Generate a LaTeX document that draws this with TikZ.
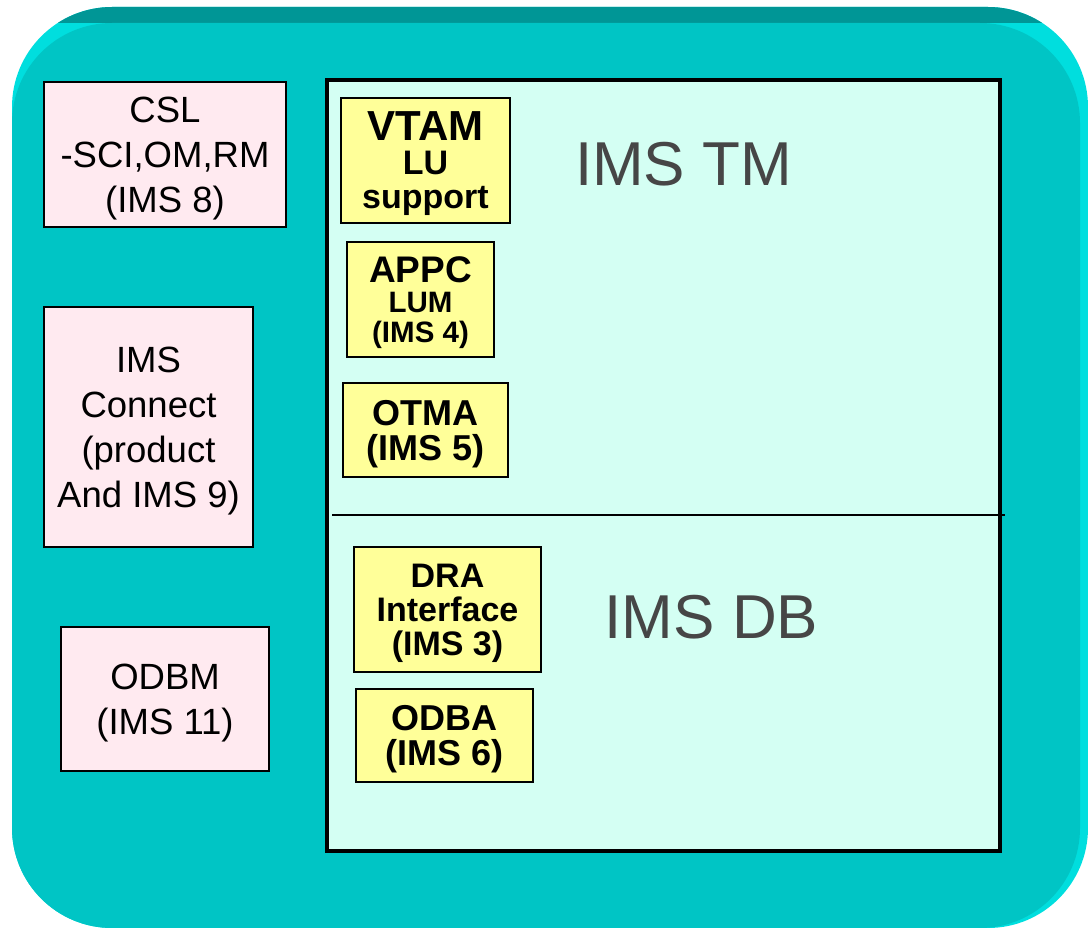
\documentclass[tikz,border=0pt]{standalone}
\usepackage{fontspec}
\setmainfont{Liberation Sans}
\usetikzlibrary{positioning}
\definecolor{imsteal}{RGB}{0,197,197}
\definecolor{imstealdark}{RGB}{0,150,150}
\definecolor{imsteallight}{RGB}{0,222,222}
\definecolor{imsmint}{RGB}{212,255,243}
\definecolor{imspink}{RGB}{255,234,240}
\definecolor{imsyellow}{RGB}{255,255,153}
\definecolor{imsgray}{RGB}{70,70,70}

\begin{document}
\begin{tikzpicture}[x=1pt,y=-1pt,
  sidebox/.style={draw,line width=1.8pt,fill=imspink,align=center,inner sep=0pt,text depth=0pt,font=\fontsize{36.5}{45}\selectfont},
  featbox/.style={draw,line width=1.8pt,fill=imsyellow,align=center,inner sep=0pt,text depth=0pt},
  arealabel/.style={text=imsgray,inner sep=0pt,font=\fontsize{62}{62}\selectfont}]
\useasboundingbox (0,0) rectangle (1088,928);
\fill[imsteallight,rounded corners=100pt] (12,7) rectangle (1088,928);
\begin{scope}
\clip (0,0) rectangle (1088,23);
\fill[imstealdark,rounded corners=100pt] (12,7) rectangle (1088,928);
\end{scope}
\fill[imsteal,rounded corners=100pt] (12,23) rectangle (1080,928);
\node[draw,line width=4pt,fill=imsmint,minimum width=673pt,minimum height=771pt,inner sep=0pt] (ims) at (663.5,465.5) {};
\coordinate (divl) at (332,515);
\coordinate (divr) at (1005,515);
\draw[line width=2pt] (divl) -- (divr);
\node[sidebox,minimum width=242pt,minimum height=145pt] (csl) at (165,154.5) {CSL\\-SCI,OM,RM\\(IMS 8)};
\node[sidebox,minimum width=209pt,minimum height=240pt] (connect) at (148.5,427) {IMS\\Connect\\(product\\And IMS 9)};
\node[sidebox,minimum width=208pt,minimum height=144pt] (odbm) at (165,699) {ODBM\\(IMS 11)};
\node[featbox,minimum width=169pt,minimum height=125pt,font=\bfseries\fontsize{34}{34}\selectfont] (vtam) at (425.5,160.5) {{\fontsize{42}{40}\selectfont VTAM}\\LU\\support};
\node[featbox,minimum width=147pt,minimum height=115pt,font=\bfseries\fontsize{29.5}{30}\selectfont] (appc) at (420.5,299.5) {{\fontsize{37}{35}\selectfont APPC}\\LUM\\(IMS 4)};
\node[featbox,minimum width=165pt,minimum height=94pt,font=\bfseries\fontsize{36}{35}\selectfont] (otma) at (425.5,430) {OTMA\\(IMS 5)};
\node[featbox,minimum width=187pt,minimum height=125pt,font=\bfseries\fontsize{34}{34}\selectfont] (dra) at (447.5,609.5) {DRA\\Interface\\(IMS 3)};
\node[featbox,minimum width=177pt,minimum height=93pt,font=\bfseries\fontsize{36}{35}\selectfont] (odba) at (444.5,735.5) {ODBA\\(IMS 6)};
\node[arealabel] (tm) at (683.5,164.5) {IMS TM};
\node[arealabel] (db) at (711.5,617.5) {IMS DB};
\end{tikzpicture}
\end{document}
